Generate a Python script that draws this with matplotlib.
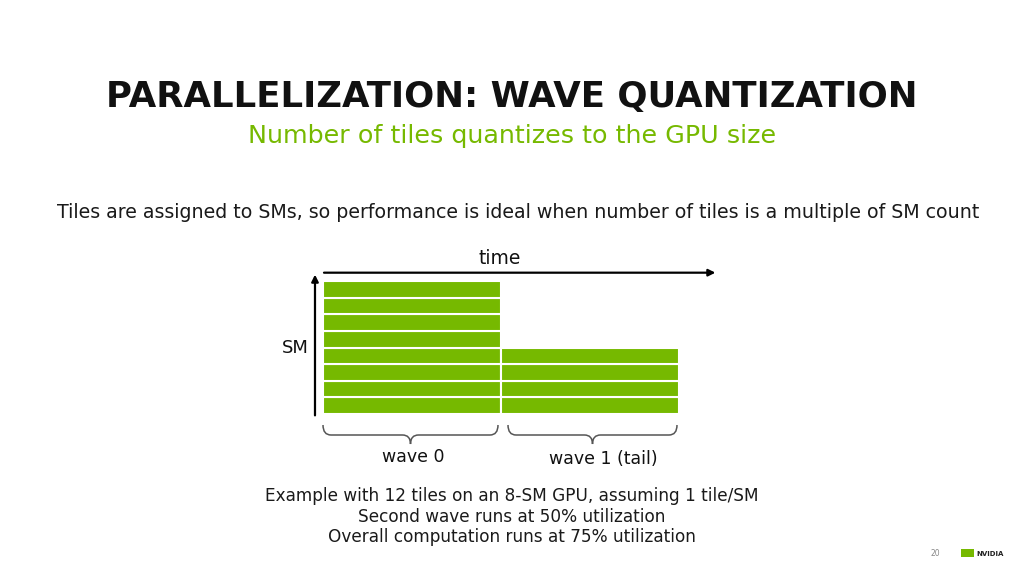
import matplotlib
matplotlib.use("Agg")
import matplotlib.pyplot as plt
from matplotlib.path import Path
from matplotlib.patches import PathPatch, Rectangle

GREEN = "#76b900"

# --- data -------------------------------------------------------------
sm_count = 8
wave_names = ["wave 0", "wave 1 (tail)"]
wave_tiles = [8, 4]          # tiles executed in each wave
caption_lines = [
    "Example with 12 tiles on an 8-SM GPU, assuming 1 tile/SM",
    "Second wave runs at 50% utilization",
    "Overall computation runs at 75% utilization",
]

plt.rcParams["font.family"] = ["DejaVu Sans"]

fig = plt.figure(figsize=(10.24, 5.76), dpi=100)
fig.patch.set_facecolor("white")

# overlay axes in pixel coordinates for the slide text
ax0 = fig.add_axes([0, 0, 1, 1])
ax0.set_xlim(0, 1024)
ax0.set_ylim(576, 0)
ax0.axis("off")

ax0.text(512, 97, "PARALLELIZATION: WAVE QUANTIZATION", ha="center", va="center",
         fontsize=25.6, fontweight="bold", color="#111111")
ax0.text(512, 136, "Number of tiles quantizes to the GPU size", ha="center", va="center",
         fontsize=18.3, color=GREEN)
ax0.text(518, 212, "Tiles are assigned to SMs, so performance is ideal when number of tiles "
         "is a multiple of SM count", ha="center", va="center", fontsize=13.7, color="#1a1a1a")
for i, line in enumerate(caption_lines):
    ax0.text(512, 496 + i * 20.5, line, ha="center", va="center", fontsize=12.2,
             color="#1a1a1a")

# page number + logo
ax0.text(935, 554, "20", ha="center", va="center", fontsize=5.5, color="#888888")
ax0.add_patch(Rectangle((961, 549), 13, 8, color=GREEN, lw=0))
ax0.text(976, 553.5, "NVIDIA", ha="left", va="center", fontsize=5, fontweight="bold",
         color="#222222")

# --- diagram axes: x = time (in waves), y = SM index ---------------------
x0_px, x1_px, ytop_px, ybot_px = 323, 679, 281, 414
ax = fig.add_axes([x0_px / 1024, 1 - ybot_px / 576,
                   (x1_px - x0_px) / 1024, (ybot_px - ytop_px) / 576])
ax.set_xlim(0, len(wave_tiles))
ax.set_ylim(0, sm_count)
ax.axis("off")

for w, n in enumerate(wave_tiles):
    ax.barh(range(n), 1, left=w, height=1, align="edge", color=GREEN,
            edgecolor="white", linewidth=1.5)

# axis arrows
ax.annotate("", xy=(-0.045, 8.55), xytext=(-0.045, -0.25), xycoords="data",
            arrowprops=dict(arrowstyle="-|>", color="black", lw=1.6, mutation_scale=10),
            annotation_clip=False)
ax.annotate("", xy=(2.22, 8.5), xytext=(-0.01, 8.5), xycoords="data",
            arrowprops=dict(arrowstyle="-|>", color="black", lw=1.6, mutation_scale=10),
            annotation_clip=False)
ax0.text(500, 259, "time", ha="center", va="center", fontsize=13.5, color="#111111")
ax0.text(295, 348, "SM", ha="center", va="center", fontsize=13, color="#111111")


def brace(a, xl, xr, ytop, ymid, ytip):
    xc = (xl + xr) / 2
    r = 8
    verts = [(xl, ytop), (xl, ymid), (xl + r, ymid),
             (xc - r, ymid),
             (xc, ymid), (xc, ytip),
             (xc, ymid), (xc + r, ymid),
             (xr - r, ymid),
             (xr, ymid), (xr, ytop)]
    codes = [Path.MOVETO, Path.CURVE3, Path.CURVE3,
             Path.LINETO,
             Path.CURVE3, Path.CURVE3,
             Path.CURVE3, Path.CURVE3,
             Path.LINETO,
             Path.CURVE3, Path.CURVE3]
    a.add_patch(PathPatch(Path(verts, codes), fill=False, edgecolor="#555555", lw=1.1))


brace_spans = [(323, 498), (508, 677)]
label_pos = [(413, 457), (603, 459)]
for (xl, xr), (lx, ly), name in zip(brace_spans, label_pos, wave_names):
    brace(ax0, xl, xr, 425, 435, 444)
    ax0.text(lx, ly, name, ha="center", va="center", fontsize=12.5, color="#111111")

fig.savefig("out.png", dpi=100, facecolor="white")
